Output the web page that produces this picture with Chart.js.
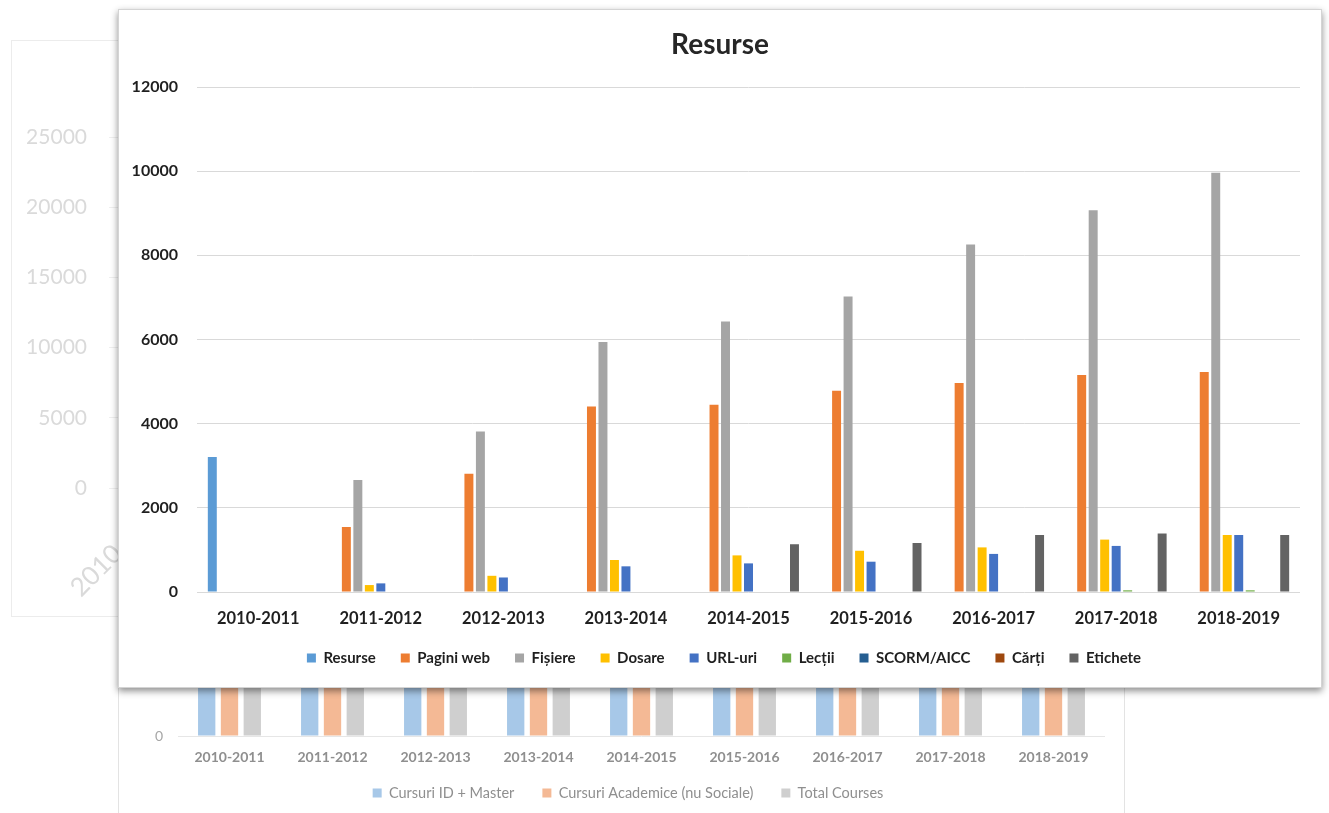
<!DOCTYPE html>
<html>
<head>
<meta charset="utf-8">
<script src="https://cdn.jsdelivr.net/npm/chart.js@4.4.1/dist/chart.umd.min.js"></script>
<style>
html,body{margin:0;padding:0;background:#fff;width:1329px;height:813px;overflow:hidden;position:relative;}
.box{position:absolute;background:#fff;}
#bgLeft{left:11px;top:40px;width:1145px;height:577px;outline:1px solid #ececec;outline-offset:-1px;}
#bgLow{left:118px;top:100px;width:1007px;height:760px;outline:1px solid #e3e3e3;outline-offset:-1px;}
#main{left:118px;top:9px;width:1204px;height:679px;box-shadow:0 3px 7px rgba(0,0,0,0.45);outline:1px solid #d4d4d4;outline-offset:-1px;}
canvas{display:block;}
</style>
</head>
<body>
<div class="box" id="bgLeft"><canvas id="c1" width="1145" height="577"></canvas></div>
<div class="box" id="bgLow"><canvas id="c2" width="1007" height="760"></canvas></div>
<div class="box" id="main"><canvas id="c3" width="1204" height="679"></canvas></div>
<script>
// ---------- data ----------
const categories = ['2010-2011','2011-2012','2012-2013','2013-2014','2014-2015','2015-2016','2016-2017','2017-2018','2018-2019'];

// main chart "Resurse"
const resurse    = [3210, 0, 0, 0, 0, 0, 0, 0, 0];
const paginiWeb  = [0, 1545, 2810, 4410, 4450, 4785, 4965, 5155, 5225];
const fisiere    = [0, 2660, 3815, 5940, 6430, 7020, 8260, 9070, 9965];
const dosare     = [0, 165, 385, 760, 870, 980, 1060, 1245, 1355];
const urlUri     = [0, 205, 345, 610, 680, 720, 905, 1095, 1355];
const lectii     = [0, 0, 0, 0, 0, 0, 0, 40, 40];
const scormAicc  = [0, 0, 0, 0, 0, 0, 0, 0, 0];
const carti      = [0, 0, 0, 0, 0, 0, 0, 0, 0];
const etichete   = [0, 0, 0, 0, 1135, 1165, 1355, 1390, 1355];
const mainTicks  = {min: 0, max: 12000, step: 2000};

// background chart (lower) – tops hidden behind the main chart, estimated
const cursuriIdMaster   = [310, 325, 342, 361, 378, 396, 412, 429, 447];
const cursuriAcademice  = [281, 296, 307, 318, 336, 349, 362, 377, 391];
const totalCourses      = [591, 621, 649, 679, 714, 745, 774, 806, 838];
const lowTicks = {min: 0, max: 1000, step: 200};

// background chart (left) – only its axis is visible
const leftTicks = {min: 0, max: 25000, step: 5000};

const FONT = 'Lato, "Open Sans", "Liberation Sans", sans-serif';

// positions legend / title boxes after layout
const placePlugin = {
  id: 'place',
  beforeDraw(chart, args, opts) {
    const lg = chart.legend;
    if (lg && opts.legendLeft != null) lg.left = opts.legendLeft;
    if (lg && opts.legendTop != null) { const h = lg.height; lg.top = opts.legendTop; lg.bottom = opts.legendTop + h; }
    const tb = chart.titleBlock;
    if (tb && opts.titleLeft != null) tb.left = opts.titleLeft;
  }
};
const plain = v => String(v);

// ---------- faded left chart ----------
new Chart(document.getElementById('c1'), {
  type: 'bar',
  data: { labels: categories, datasets: [] },
  options: {
    responsive: false, animation: false,
    layout: { padding: { top: 97, left: 0, right: 0, bottom: 0 } },
    plugins: { legend: { display: false }, title: { display: false }, tooltip: { enabled: false } },
    scales: {
      x: {
        afterFit: s => { s.height = 129; },
        grid: { display: false, drawTicks: false }, border: { display: false },
        ticks: { minRotation: 45, maxRotation: 45, autoSkip: false, padding: 1,
                 color: '#dadada', font: { family: FONT, size: 26 } }
      },
      y: {
        min: leftTicks.min, max: leftTicks.max,
        afterFit: s => { s.width = 98; },
        grid: { color: '#efefef', drawTicks: false }, border: { display: false },
        ticks: { stepSize: leftTicks.step, padding: 22, color: '#dadada', callback: plain,
                 font: { family: FONT, size: 21 } }
      }
    }
  }
});

// ---------- faded lower chart ----------
new Chart(document.getElementById('c2'), {
  type: 'bar',
  plugins: [placePlugin],
  data: {
    labels: categories,
    datasets: [
      { label: 'Cursuri ID + Master', data: cursuriIdMaster, backgroundColor: '#A7C8E8' },
      { label: 'Cursuri Academice (nu Sociale)', data: cursuriAcademice, backgroundColor: '#F4B995' },
      { label: 'Total Courses', data: totalCourses, backgroundColor: '#CFCFCF' }
    ]
  },
  options: {
    responsive: false, animation: false,
    layout: { padding: { top: 40, left: 0, right: 20, bottom: 41.5 } },
    datasets: { bar: { categoryPercentage: 0.664, barPercentage: 0.76 } },
    plugins: {
      place: { legendLeft: 33, legendTop: 657.75 },
      title: { display: false }, tooltip: { enabled: false },
      legend: { position: 'bottom',
        labels: { boxWidth: 9, boxHeight: 9, padding: 28, color: '#8f8f8f', font: { family: FONT, size: 14.5 } } }
    },
    scales: {
      x: {
        afterFit: s => { s.height = 30; },
        grid: { display: false, drawTicks: false }, border: { display: false },
        ticks: { padding: 12.6, color: '#8f8f8f', font: { family: FONT, size: 14, weight: 'bold' } }
      },
      y: {
        min: lowTicks.min, max: lowTicks.max,
        afterFit: s => { s.width = 60; },
        grid: { color: '#e6e6e6', drawTicks: false }, border: { display: false },
        ticks: { stepSize: lowTicks.step, padding: 15, color: '#a6a6a6', callback: plain,
                 font: { family: FONT, size: 14 } }
      }
    }
  }
});

// ---------- main chart ----------
new Chart(document.getElementById('c3'), {
  type: 'bar',
  plugins: [placePlugin],
  data: {
    labels: categories,
    datasets: [
      { label: 'Resurse',    data: resurse,   backgroundColor: '#5B9BD5' },
      { label: 'Pagini web', data: paginiWeb, backgroundColor: '#ED7D31' },
      { label: 'Fișiere',    data: fisiere,   backgroundColor: '#A5A5A5' },
      { label: 'Dosare',     data: dosare,    backgroundColor: '#FFC000' },
      { label: 'URL-uri',    data: urlUri,    backgroundColor: '#4472C4' },
      { label: 'Lecții',     data: lectii,    backgroundColor: '#70AD47' },
      { label: 'SCORM/AICC', data: scormAicc, backgroundColor: '#255E91' },
      { label: 'Cărți',      data: carti,     backgroundColor: '#9E480E' },
      { label: 'Etichete',   data: etichete,  backgroundColor: '#636363' }
    ]
  },
  options: {
    responsive: false, animation: false,
    layout: { padding: { top: 0, left: 0, right: 22, bottom: 1 } },
    datasets: { bar: { categoryPercentage: 0.844, barPercentage: 0.78 } },
    plugins: {
      place: { legendLeft: 30, legendTop: 616.5, titleLeft: 22 },
      tooltip: { enabled: false },
      title: { display: true, text: 'Resurse', color: '#262626',
               font: { family: FONT, size: 28, weight: 'bold' }, padding: { top: 19.2, bottom: 25.2 } },
      legend: { position: 'bottom',
        labels: { boxWidth: 9, boxHeight: 9, padding: 25, color: '#1f1f1f',
                  font: { family: FONT, size: 15, weight: 'bold' } } }
    },
    scales: {
      x: {
        afterFit: s => { s.height = 45; },
        grid: { display: false, drawTicks: false }, border: { display: false },
        ticks: { padding: 17, color: '#1f1f1f', font: { family: FONT, size: 16.5, weight: 'bold' } }
      },
      y: {
        min: mainTicks.min, max: mainTicks.max,
        afterFit: s => { s.width = 79; },
        grid: { color: '#d9d9d9', drawTicks: false }, border: { display: false },
        ticks: { stepSize: mainTicks.step, padding: 19, color: '#1f1f1f', callback: plain,
                 font: { family: FONT, size: 16, weight: 'bold' } }
      }
    }
  }
});
</script>
</body>
</html>
